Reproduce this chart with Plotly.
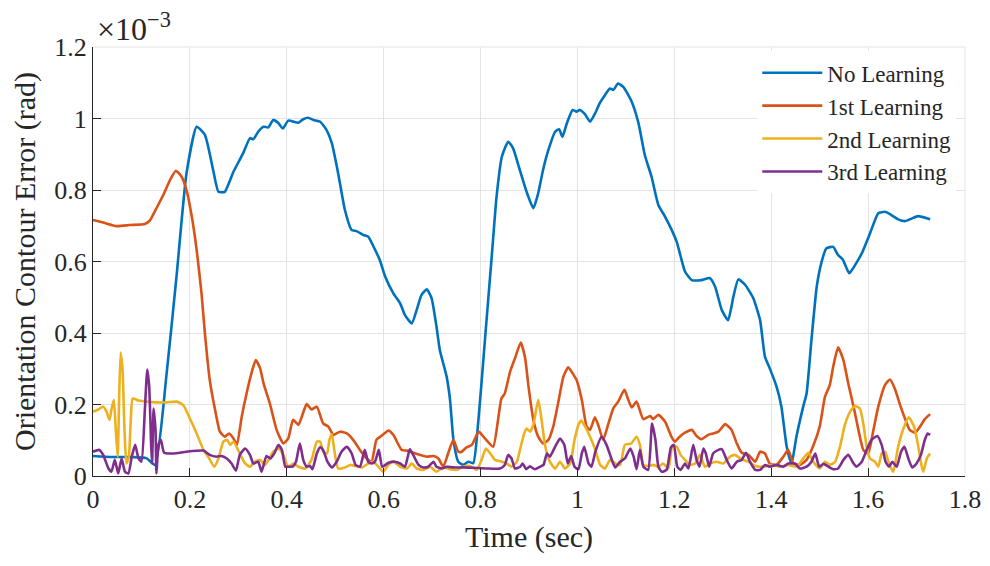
import plotly.graph_objects as go

# values, y in units of 1e-3 rad
t_no = [0.000, 0.040, 0.080, 0.110, 0.128, 0.152, 0.173, 0.193, 0.214, 0.231, 0.248, 0.259, 0.272, 0.290,
        0.310, 0.324, 0.331, 0.341, 0.352, 0.362, 0.372, 0.382, 0.392, 0.403, 0.424, 0.434, 0.444, 0.455,
        0.469, 0.482, 0.493, 0.506, 0.520, 0.534, 0.544, 0.558, 0.568, 0.579, 0.592, 0.603, 0.620, 0.634,
        0.644, 0.658, 0.668, 0.678, 0.689, 0.699, 0.709, 0.716, 0.730, 0.737, 0.744, 0.754, 0.764, 0.775,
        0.785, 0.795, 0.809, 0.823, 0.833, 0.844, 0.857, 0.867, 0.881, 0.895, 0.909, 0.919, 0.929, 0.940,
        0.954, 0.962, 0.969, 0.978, 0.990, 0.998, 1.005, 1.015, 1.026, 1.036, 1.046, 1.057, 1.067, 1.074,
        1.084, 1.095, 1.112, 1.126, 1.139, 1.153, 1.167, 1.181, 1.194, 1.205, 1.222, 1.236, 1.256, 1.273,
        1.284, 1.298, 1.311, 1.322, 1.332, 1.346, 1.363, 1.377, 1.387, 1.397, 1.411, 1.421, 1.432, 1.442,
        1.452, 1.466, 1.473, 1.483, 1.494, 1.504, 1.514, 1.528, 1.538, 1.548, 1.561, 1.573, 1.587, 1.604,
        1.621, 1.635, 1.648, 1.662, 1.676, 1.690, 1.703, 1.728]
e_no = [0.056, 0.053, 0.053, 0.050, 0.031, 0.287, 0.567, 0.847, 0.977, 0.954, 0.856, 0.795, 0.795, 0.851,
        0.903, 0.945, 0.942, 0.963, 0.977, 0.975, 0.996, 0.988, 0.972, 0.994, 0.988, 0.998, 1.002, 0.996,
        0.991, 0.968, 0.931, 0.847, 0.744, 0.688, 0.685, 0.674, 0.670, 0.642, 0.604, 0.558, 0.511, 0.483,
        0.450, 0.427, 0.464, 0.506, 0.522, 0.497, 0.418, 0.352, 0.278, 0.213, 0.101, 0.040, 0.031, 0.040,
        0.036, 0.147, 0.380, 0.613, 0.781, 0.893, 0.935, 0.917, 0.856, 0.795, 0.749, 0.791, 0.856, 0.912,
        0.963, 0.970, 0.949, 0.986, 1.024, 1.019, 1.024, 1.013, 0.991, 1.013, 1.043, 1.066, 1.084, 1.080,
        1.098, 1.088, 1.047, 0.987, 0.898, 0.837, 0.758, 0.725, 0.690, 0.655, 0.572, 0.548, 0.548, 0.554,
        0.530, 0.464, 0.436, 0.502, 0.550, 0.535, 0.497, 0.436, 0.334, 0.301, 0.250, 0.194, 0.082, 0.035,
        0.110, 0.194, 0.231, 0.380, 0.530, 0.599, 0.637, 0.641, 0.618, 0.605, 0.567, 0.590, 0.623, 0.679,
        0.735, 0.739, 0.730, 0.718, 0.713, 0.720, 0.727, 0.718]

t_1st = [0.000, 0.021, 0.049, 0.076, 0.107, 0.118, 0.131, 0.145, 0.159, 0.171, 0.183, 0.193, 0.204, 0.214,
         0.224, 0.231, 0.241, 0.252, 0.262, 0.272, 0.281, 0.290, 0.297, 0.307, 0.317, 0.327, 0.336, 0.345,
         0.352, 0.365, 0.379, 0.393, 0.403, 0.413, 0.424, 0.431, 0.441, 0.451, 0.462, 0.475, 0.486, 0.496,
         0.510, 0.524, 0.537, 0.551, 0.565, 0.575, 0.585, 0.595, 0.610, 0.620, 0.637, 0.648, 0.661, 0.675,
         0.689, 0.703, 0.713, 0.723, 0.733, 0.744, 0.754, 0.761, 0.771, 0.782, 0.796, 0.809, 0.826, 0.837,
         0.843, 0.850, 0.861, 0.871, 0.883, 0.892, 0.899, 0.909, 0.919, 0.929, 0.940, 0.950, 0.960, 0.971,
         0.981, 0.992, 0.998, 1.009, 1.019, 1.026, 1.036, 1.044, 1.053, 1.064, 1.074, 1.084, 1.097, 1.105,
         1.112, 1.122, 1.136, 1.150, 1.156, 1.167, 1.181, 1.194, 1.201, 1.211, 1.222, 1.236, 1.246, 1.256,
         1.270, 1.280, 1.291, 1.305, 1.318, 1.329, 1.339, 1.353, 1.367, 1.377, 1.387, 1.397, 1.411, 1.425,
         1.435, 1.446, 1.459, 1.473, 1.487, 1.500, 1.511, 1.521, 1.528, 1.538, 1.549, 1.559, 1.570, 1.580,
         1.590, 1.600, 1.611, 1.621, 1.635, 1.645, 1.655, 1.666, 1.676, 1.686, 1.697, 1.707, 1.717, 1.728]
e_1st = [0.716, 0.709, 0.699, 0.702, 0.705, 0.716, 0.749, 0.786, 0.828, 0.854, 0.837, 0.800, 0.725, 0.632,
         0.511, 0.399, 0.269, 0.185, 0.124, 0.110, 0.119, 0.105, 0.087, 0.166, 0.231, 0.287, 0.324, 0.301,
         0.259, 0.203, 0.129, 0.091, 0.105, 0.157, 0.143, 0.166, 0.201, 0.186, 0.194, 0.147, 0.138, 0.115,
         0.124, 0.119, 0.101, 0.073, 0.049, 0.040, 0.101, 0.112, 0.127, 0.115, 0.073, 0.071, 0.065, 0.059,
         0.054, 0.056, 0.049, 0.026, 0.063, 0.101, 0.068, 0.068, 0.080, 0.087, 0.124, 0.105, 0.082, 0.166,
         0.217, 0.231, 0.292, 0.329, 0.373, 0.330, 0.250, 0.157, 0.110, 0.091, 0.101, 0.138, 0.203, 0.278,
         0.304, 0.283, 0.269, 0.213, 0.138, 0.129, 0.164, 0.138, 0.101, 0.147, 0.189, 0.208, 0.241, 0.213,
         0.192, 0.208, 0.159, 0.168, 0.159, 0.171, 0.152, 0.110, 0.096, 0.110, 0.121, 0.129, 0.112, 0.103,
         0.115, 0.119, 0.124, 0.145, 0.129, 0.091, 0.065, 0.059, 0.040, 0.068, 0.063, 0.035, 0.031, 0.054,
         0.073, 0.035, 0.031, 0.045, 0.085, 0.138, 0.222, 0.255, 0.306, 0.360, 0.324, 0.259, 0.194, 0.129,
         0.073, 0.063, 0.129, 0.194, 0.255, 0.270, 0.245, 0.199, 0.161, 0.129, 0.121, 0.138, 0.159, 0.173]

t_2nd = [0.000, 0.011, 0.021, 0.028, 0.034, 0.038, 0.043, 0.047, 0.051, 0.054, 0.057, 0.061, 0.065, 0.069,
         0.074, 0.078, 0.082, 0.094, 0.111, 0.131, 0.152, 0.173, 0.186, 0.200, 0.214, 0.228, 0.240, 0.250,
         0.259, 0.269, 0.277, 0.283, 0.290, 0.303, 0.314, 0.324, 0.334, 0.345, 0.355, 0.366, 0.372, 0.383,
         0.393, 0.403, 0.414, 0.424, 0.438, 0.451, 0.462, 0.469, 0.475, 0.483, 0.488, 0.493, 0.498, 0.506,
         0.520, 0.531, 0.541, 0.555, 0.568, 0.579, 0.589, 0.599, 0.610, 0.620, 0.634, 0.648, 0.658, 0.668,
         0.682, 0.696, 0.709, 0.723, 0.737, 0.751, 0.764, 0.778, 0.792, 0.802, 0.811, 0.820, 0.830, 0.844,
         0.854, 0.864, 0.875, 0.882, 0.890, 0.895, 0.902, 0.909, 0.919, 0.926, 0.933, 0.943, 0.954, 0.964,
         0.974, 0.985, 0.994, 1.002, 1.008, 1.016, 1.026, 1.036, 1.047, 1.057, 1.067, 1.078, 1.088, 1.098,
         1.111, 1.122, 1.129, 1.136, 1.146, 1.156, 1.167, 1.177, 1.188, 1.196, 1.205, 1.213, 1.222, 1.232,
         1.243, 1.253, 1.263, 1.274, 1.287, 1.301, 1.315, 1.325, 1.339, 1.353, 1.367, 1.384, 1.401, 1.418,
         1.435, 1.453, 1.466, 1.477, 1.487, 1.500, 1.511, 1.521, 1.532, 1.542, 1.552, 1.563, 1.573, 1.583,
         1.590, 1.597, 1.604, 1.614, 1.621, 1.628, 1.635, 1.643, 1.652, 1.662, 1.673, 1.684, 1.695, 1.703,
         1.710, 1.714, 1.721, 1.728]
e_2nd = [0.180, 0.186, 0.194, 0.180, 0.157, 0.185, 0.213, 0.129, 0.054, 0.222, 0.345, 0.297, 0.129, 0.035,
         0.054, 0.157, 0.217, 0.211, 0.208, 0.206, 0.206, 0.208, 0.199, 0.161, 0.119, 0.073, 0.049, 0.026,
         0.049, 0.096, 0.101, 0.087, 0.096, 0.063, 0.035, 0.026, 0.040, 0.045, 0.031, 0.054, 0.068, 0.077,
         0.059, 0.026, 0.035, 0.026, 0.021, 0.045, 0.096, 0.096, 0.068, 0.063, 0.101, 0.117, 0.073, 0.021,
         0.024, 0.031, 0.028, 0.024, 0.035, 0.040, 0.026, 0.012, 0.031, 0.040, 0.026, 0.021, 0.035, 0.021,
         0.017, 0.026, 0.012, 0.024, 0.019, 0.017, 0.026, 0.028, 0.017, 0.045, 0.077, 0.063, 0.045, 0.040,
         0.035, 0.026, 0.040, 0.077, 0.119, 0.133, 0.124, 0.143, 0.213, 0.157, 0.087, 0.040, 0.021, 0.040,
         0.021, 0.035, 0.101, 0.143, 0.155, 0.138, 0.110, 0.077, 0.031, 0.021, 0.045, 0.035, 0.031, 0.087,
         0.091, 0.110, 0.087, 0.031, 0.028, 0.031, 0.026, 0.035, 0.021, 0.085, 0.082, 0.059, 0.045, 0.031,
         0.035, 0.059, 0.026, 0.035, 0.040, 0.035, 0.054, 0.059, 0.047, 0.040, 0.028, 0.026, 0.031, 0.026,
         0.031, 0.026, 0.049, 0.065, 0.040, 0.021, 0.040, 0.031, 0.040, 0.082, 0.143, 0.180, 0.196, 0.189,
         0.147, 0.082, 0.049, 0.040, 0.026, 0.063, 0.068, 0.035, 0.012, 0.082, 0.133, 0.164, 0.138, 0.087,
         0.031, 0.012, 0.049, 0.063]

t_3rd = [0.000, 0.013, 0.021, 0.032, 0.038, 0.045, 0.052, 0.059, 0.066, 0.073, 0.080, 0.087, 0.094, 0.100,
         0.107, 0.112, 0.116, 0.120, 0.122, 0.125, 0.129, 0.131, 0.135, 0.140, 0.147, 0.166, 0.193, 0.228,
         0.241, 0.255, 0.265, 0.276, 0.286, 0.295, 0.303, 0.314, 0.324, 0.331, 0.341, 0.348, 0.358, 0.366,
         0.374, 0.383, 0.390, 0.397, 0.405, 0.412, 0.419, 0.427, 0.434, 0.441, 0.448, 0.453, 0.462, 0.469,
         0.475, 0.484, 0.493, 0.503, 0.513, 0.524, 0.534, 0.542, 0.551, 0.561, 0.568, 0.575, 0.582, 0.590,
         0.597, 0.610, 0.623, 0.634, 0.644, 0.654, 0.661, 0.672, 0.682, 0.692, 0.703, 0.709, 0.720, 0.730,
         0.744, 0.764, 0.785, 0.813, 0.840, 0.850, 0.857, 0.864, 0.871, 0.882, 0.887, 0.894, 0.902, 0.912,
         0.923, 0.930, 0.937, 0.943, 0.954, 0.964, 0.973, 0.980, 0.987, 0.994, 1.002, 1.009, 1.014, 1.023,
         1.029, 1.037, 1.050, 1.060, 1.071, 1.078, 1.088, 1.098, 1.109, 1.116, 1.122, 1.129, 1.136, 1.146,
         1.154, 1.161, 1.167, 1.174, 1.184, 1.193, 1.199, 1.206, 1.213, 1.222, 1.229, 1.239, 1.246, 1.252,
         1.260, 1.265, 1.272, 1.280, 1.291, 1.298, 1.308, 1.318, 1.329, 1.339, 1.348, 1.356, 1.367, 1.377,
         1.387, 1.397, 1.411, 1.425, 1.435, 1.449, 1.459, 1.473, 1.483, 1.491, 1.499, 1.508, 1.518, 1.528,
         1.538, 1.549, 1.559, 1.570, 1.576, 1.587, 1.597, 1.607, 1.619, 1.628, 1.636, 1.643, 1.650, 1.659,
         1.668, 1.675, 1.683, 1.691, 1.700, 1.709, 1.717, 1.723, 1.728]
e_3rd = [0.068, 0.073, 0.059, 0.021, 0.012, 0.045, 0.007, 0.049, 0.012, 0.007, 0.054, 0.087, 0.049, 0.040,
         0.185, 0.298, 0.250, 0.087, 0.035, 0.189, 0.129, 0.007, 0.087, 0.101, 0.065, 0.063, 0.068, 0.071,
         0.059, 0.054, 0.056, 0.049, 0.035, 0.015, 0.059, 0.077, 0.059, 0.035, 0.040, 0.012, 0.056, 0.049,
         0.063, 0.087, 0.073, 0.026, 0.026, 0.026, 0.040, 0.091, 0.045, 0.026, 0.028, 0.019, 0.063, 0.080,
         0.073, 0.040, 0.024, 0.040, 0.068, 0.082, 0.063, 0.031, 0.026, 0.073, 0.040, 0.035, 0.040, 0.073,
         0.026, 0.037, 0.040, 0.035, 0.026, 0.075, 0.059, 0.031, 0.024, 0.026, 0.040, 0.026, 0.021, 0.026,
         0.024, 0.024, 0.023, 0.021, 0.021, 0.031, 0.059, 0.049, 0.021, 0.026, 0.035, 0.019, 0.027, 0.019,
         0.026, 0.031, 0.063, 0.054, 0.082, 0.105, 0.087, 0.035, 0.056, 0.026, 0.019, 0.063, 0.082, 0.035,
         0.026, 0.068, 0.110, 0.087, 0.045, 0.024, 0.040, 0.049, 0.077, 0.054, 0.019, 0.073, 0.026, 0.017,
         0.147, 0.101, 0.026, 0.012, 0.017, 0.080, 0.087, 0.026, 0.017, 0.035, 0.021, 0.087, 0.045, 0.026,
         0.077, 0.063, 0.026, 0.063, 0.073, 0.075, 0.045, 0.021, 0.040, 0.045, 0.065, 0.040, 0.017, 0.017,
         0.031, 0.026, 0.031, 0.026, 0.035, 0.035, 0.021, 0.026, 0.040, 0.063, 0.026, 0.034, 0.026, 0.019,
         0.021, 0.045, 0.059, 0.035, 0.026, 0.040, 0.073, 0.101, 0.112, 0.087, 0.040, 0.026, 0.040, 0.026,
         0.068, 0.082, 0.049, 0.024, 0.035, 0.059, 0.101, 0.119, 0.115]

names = ["No Learning", "1st Learning", "2nd Learning", "3rd Learning"]
colors = ["#0072BD", "#D95319", "#EDB120", "#7E2F8E"]
y_ticks = [0, 0.2, 0.4, 0.6, 0.8, 1, 1.2]
x_ticks = [0, 0.2, 0.4, 0.6, 0.8, 1, 1.2, 1.4, 1.6, 1.8]

series = [(t_no, e_no), (t_1st, e_1st), (t_2nd, e_2nd), (t_3rd, e_3rd)]

fig = go.Figure()
for (t, e), name, c in zip(series, names, colors):
    fig.add_trace(go.Scatter(x=t, y=[v * 1e-3 for v in e], name=name, mode="lines",
                             line=dict(color=c, width=2.6, shape="spline", smoothing=0.5)))

font = "Liberation Serif, Times New Roman, serif"
ink = "#262626"
axis_common = dict(showline=True, linecolor=ink, linewidth=1.2, ticks="inside", ticklen=8,
                   tickcolor=ink, showgrid=True, gridcolor="#e3e3e3", gridwidth=1,
                   zeroline=False, automargin=False,
                   tickfont=dict(family=font, size=26, color=ink))

# page body adds an 8px margin, so the figure is sized 8px smaller to keep the plot box in place
fig.update_layout(
    width=982, height=558,
    margin=dict(l=85, r=25, t=39, b=90),
    paper_bgcolor="white", plot_bgcolor="white",
    font=dict(family=font, color=ink),
    showlegend=True,
    legend=dict(x=0.99, y=0.99, xanchor="right", yanchor="top", bgcolor="white",
                borderwidth=0, font=dict(family=font, size=23, color=ink),
                tracegroupgap=0, itemwidth=60),
    xaxis=dict(range=[0, 1.8], tickvals=x_ticks, ticktext=[f"{v:g}" for v in x_ticks],
               title=dict(text="Time (sec)", font=dict(family=font, size=30, color=ink),
                          standoff=12),
               **axis_common),
    yaxis=dict(range=[0, 1.2e-3], tickvals=[v * 1e-3 for v in y_ticks],
               ticktext=[f"{v:g}" for v in y_ticks],
               title=dict(text="Orientation Contour Error (rad)",
                          font=dict(family=font, size=30, color=ink), standoff=12),
               **axis_common),
    annotations=[dict(xref="paper", yref="paper", x=0, y=1, xanchor="left", yanchor="bottom",
                      text="×10<sup>−3</sup>", showarrow=False, xshift=2, yshift=-2,
                      font=dict(family=font, size=32, color=ink))],
    shapes=[dict(type="line", xref="paper", yref="paper", x0=0, x1=1, y0=1, y1=1,
                 line=dict(color="#e3e3e3", width=1)),
            dict(type="line", xref="paper", yref="paper", x0=1, x1=1, y0=0, y1=1,
                 line=dict(color="#e3e3e3", width=1))],
)

fig.write_html("out.html")
